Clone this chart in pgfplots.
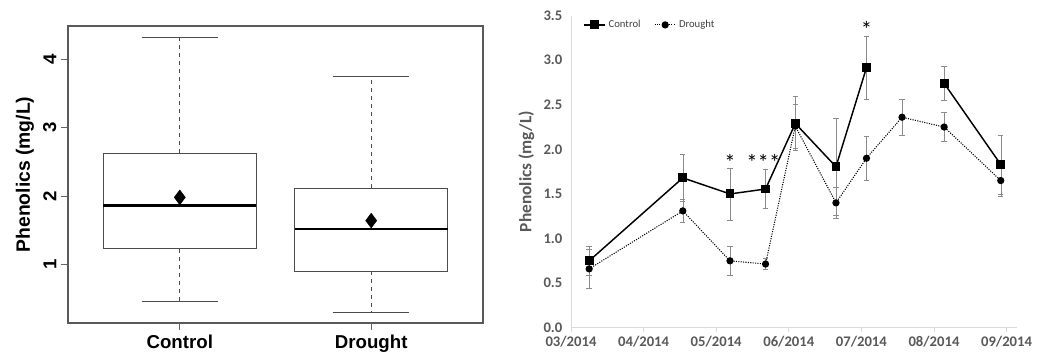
\documentclass[border=0pt]{standalone}
\usepackage{pgfplots}
\pgfplotsset{compat=1.18}
\usepgfplotslibrary{statistics}
\usepackage{fontspec}
\setmainfont{Liberation Sans}
\newfontfamily\carlito{Carlito}
\definecolor{axgray}{HTML}{D9D9D9}
\definecolor{txtgray}{HTML}{595959}
\definecolor{errgray}{HTML}{8C8C8C}
\pgfplotstableread{
x y e
0.25 0.75 0.16
1.54 1.68 0.26
2.19 1.50 0.29
2.68 1.555 0.22
3.09 2.29 0.30
3.65 1.805 0.545
4.07 2.915 0.35
4.56 nan 0
5.14 2.74 0.195
5.92 1.83 0.33
}\control
\pgfplotstableread{
x y e
0.25 0.66 0.22
1.54 1.31 0.13
2.19 0.75 0.165
2.68 0.714 0.06
3.09 2.26 0.25
3.65 1.40 0.17
4.07 1.90 0.25
4.56 2.36 0.205
5.14 2.25 0.165
5.92 1.65 0.18
}\drought
\begin{document}
\begin{tikzpicture}
\useasboundingbox (0,0) rectangle (785.25pt,265.5pt);
% ---------- left: boxplot ----------
\begin{axis}[
  at={(51pt,23.25pt)}, anchor=south west, scale only axis,
  width=311.25pt, height=222.75pt,
  xmin=0.416, xmax=2.584, ymin=0.14, ymax=4.49,
  xtick={1,2}, xticklabels={Control,Drought},
  ytick={1,2,3,4},
  tick align=outside, xtick pos=bottom, ytick pos=left,
  major tick length=5.25pt,
  every tick/.style={black!60, line width=0.6pt},
  axis line style={black!65, line width=0.8pt},
  ticklabel style={font=\fontsize{14}{16}\selectfont\bfseries},
  /pgf/number format/assume math mode=true,
  yticklabel style={rotate=90, anchor=south},
  ylabel={Phenolics (mg/L)},
  ylabel style={font=\fontsize{14.5}{16}\selectfont\bfseries},
  boxplot/draw direction=y,
  boxplot/box extend=0.8, boxplot/whisker extend=0.4,
  boxplot/every box/.style={black!70, line width=0.7pt},
  boxplot/every median/.style={black, line width=1.6pt},
  boxplot/draw/lower whisker/.code={
    \draw[dashed, black!70, line width=0.5pt] (boxplot cs:\pgfplotsboxplotvalue{lower quartile}) -- (boxplot cs:\pgfplotsboxplotvalue{lower whisker});
    \draw[black!70, line width=0.7pt] (boxplot whisker cs:\pgfplotsboxplotvalue{lower whisker},0) -- (boxplot whisker cs:\pgfplotsboxplotvalue{lower whisker},1);
  },
  boxplot/draw/upper whisker/.code={
    \draw[dashed, black!70, line width=0.5pt] (boxplot cs:\pgfplotsboxplotvalue{upper quartile}) -- (boxplot cs:\pgfplotsboxplotvalue{upper whisker});
    \draw[black!70, line width=0.7pt] (boxplot whisker cs:\pgfplotsboxplotvalue{upper whisker},0) -- (boxplot whisker cs:\pgfplotsboxplotvalue{upper whisker},1);
  },
]
\addplot[boxplot prepared={draw position=1, lower whisker=0.46, lower quartile=1.23, median=1.86, upper quartile=2.63, upper whisker=4.32}, black!70] coordinates {};
\addplot[boxplot prepared={draw position=2, lower whisker=0.30, lower quartile=0.90, median=1.52, upper quartile=2.11, upper whisker=3.75}, black!70] coordinates {};
\addplot[only marks, mark=diamond*, mark size=5.5pt, black] coordinates {(1,1.98) (2,1.64)};
\end{axis}
% ---------- right: time series ----------
\begin{axis}[
  at={(428.25pt,19.7pt)}, anchor=south west, scale only axis,
  width=334.3pt, height=234.15pt,
  xmin=0, xmax=6.14, ymin=0, ymax=3.5,
  axis x line=bottom, axis y line=left,
  axis line style={axgray, line width=0.6pt, -},
  xtick={0,...,6},
  xticklabels={03/2014,04/2014,05/2014,06/2014,07/2014,08/2014,09/2014},
  ytick={0,0.5,...,3.5},
  yticklabel style={/pgf/number format/.cd, fixed, fixed zerofill, precision=1},
  /pgf/number format/assume math mode=true,
  x tick style={axgray, line width=0.6pt}, y tick style={draw=none},
  tick align=outside, major tick length=3pt,
  ticklabel style={font=\carlito\fontsize{11}{12}\selectfont\bfseries, text=txtgray},
  ylabel={Phenolics (mg/L)},
  ylabel style={font=\carlito\fontsize{13}{14}\selectfont\bfseries, text=txtgray},
  unbounded coords=jump,
  legend style={at={(0.027,0.97)}, anchor=west, draw=none, fill=none, legend columns=2,
    font=\carlito\fontsize{8}{9}\selectfont, text=black!75, inner sep=0pt,
    /tikz/every even column/.append style={column sep=8pt}},
  legend image code/.code={\draw[mark repeat=2,mark phase=2,#1] plot coordinates {(0cm,0cm)(0.28cm,0cm)(0.56cm,0cm)};},
]
\addplot[black, line width=1.1pt, mark=square*, mark size=2.8pt, mark options={solid},
  error bars/.cd, y dir=both, y explicit,
  error bar style={errgray, line width=0.4pt, solid},
  error mark options={errgray, rotate=90, mark size=2pt, line width=0.4pt}]
  table[x=x, y=y, y error=e] {\control};
\addlegendentry{Control}
\addplot[black, densely dotted, line width=0.8pt, mark=*, mark size=2.3pt, mark options={solid},
  error bars/.cd, y dir=both, y explicit,
  error bar style={errgray, line width=0.4pt, solid},
  error mark options={errgray, rotate=90, mark size=2pt, line width=0.4pt}]
  table[x=x, y=y, y error=e] {\drought};
\addlegendentry{Drought}
\node[font=\carlito\fontsize{17}{17}\selectfont, inner sep=0pt] at (axis cs:2.19,1.85) {*};
\node[font=\carlito\fontsize{17}{17}\selectfont, inner sep=0pt] at (axis cs:2.65,1.85) {***};
\node[font=\carlito\fontsize{17}{17}\selectfont, inner sep=0pt] at (axis cs:4.07,3.34) {*};
\end{axis}
\end{tikzpicture}
\end{document}
